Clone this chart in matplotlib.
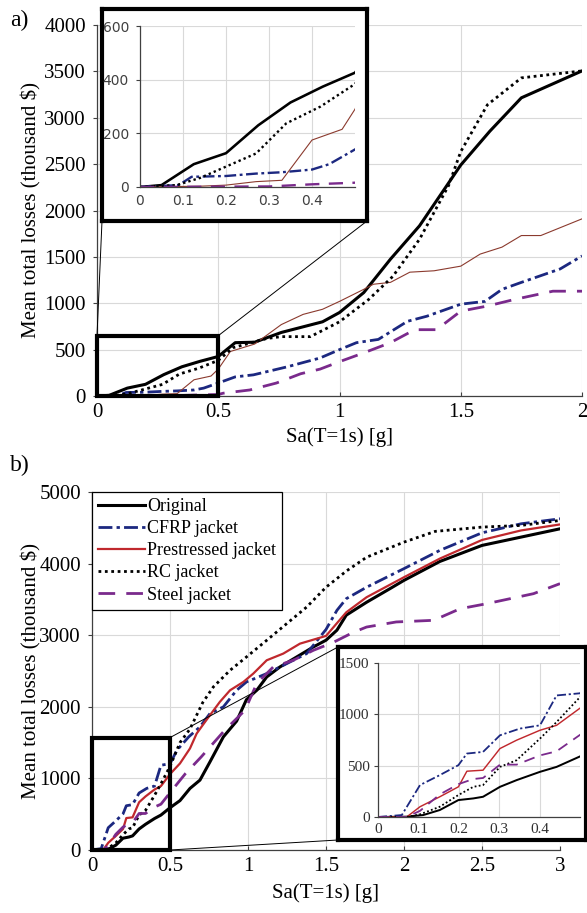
import matplotlib
matplotlib.use('Agg')
import matplotlib.pyplot as plt
from matplotlib.patches import ConnectionPatch

plt.rcParams['font.family'] = 'Liberation Serif'

W, H = 587, 913

# ---- panel a) data (Sa in g, losses in thousand $) ----
a_orig_x = [0, 0.05, 0.125, 0.2, 0.275, 0.35, 0.425, 0.5, 0.57, 0.65, 0.76, 0.93, 1.0, 1.1, 1.21, 1.33, 1.5, 1.62, 1.75, 2.0]
a_orig_y = [0, 7, 85, 126, 230, 315, 374, 426, 575, 580, 685, 800, 900, 1115, 1475, 1835, 2490, 2855, 3215, 3505]

a_cfrp_x = [0, 0.09, 0.12, 0.2, 0.27, 0.33, 0.4, 0.44, 0.5, 0.57, 0.645, 0.785, 0.92, 1.0, 1.07, 1.16, 1.28, 1.36, 1.5, 1.6, 1.67, 1.75, 1.91, 2.0]
a_cfrp_y = [0, 7, 38, 41, 50, 55, 65, 85, 140, 206, 228, 315, 410, 500, 575, 610, 805, 860, 990, 1020, 1150, 1225, 1370, 1510]

a_pres_x = [0, 0.14, 0.2, 0.27, 0.33, 0.4, 0.47, 0.5, 0.55, 0.65, 0.76, 0.85, 0.93, 1.0, 1.1, 1.14, 1.21, 1.29, 1.39, 1.5, 1.58, 1.67, 1.75, 1.83, 2.0]
a_pres_y = [0, 3, 7, 20, 25, 175, 215, 290, 480, 560, 770, 880, 935, 1020, 1150, 1205, 1225, 1335, 1350, 1400, 1530, 1605, 1730, 1730, 1910]

a_rc_x = [0, 0.085, 0.14, 0.2, 0.27, 0.34, 0.42, 0.5, 0.56, 0.7, 0.76, 0.88, 1.0, 1.12, 1.22, 1.33, 1.45, 1.5, 1.61, 1.75, 2.0]
a_rc_y = [0, 7, 34, 76, 125, 237, 300, 384, 520, 620, 640, 640, 800, 1040, 1290, 1690, 2270, 2635, 3140, 3430, 3505]

a_steel_x = [0, 0.3, 0.4, 0.5, 0.52, 0.63, 0.74, 0.84, 0.92, 1.0, 1.1, 1.21, 1.31, 1.4, 1.5, 1.61, 1.72, 1.88, 2.0]
a_steel_y = [0, 2, 10, 16, 30, 65, 140, 240, 290, 370, 465, 575, 715, 715, 915, 970, 1040, 1130, 1130]

# ---- panel b) data ----
b_orig_x = [0, 0.071, 0.112, 0.153, 0.199, 0.236, 0.26, 0.302, 0.343, 0.401, 0.442, 0.5, 0.564, 0.628, 0.692, 0.756, 0.842, 0.927, 0.99, 1.056, 1.12, 1.205, 1.312, 1.419, 1.5, 1.57, 1.63, 1.76, 1.91, 2.0, 2.23, 2.5, 2.75, 3.0]
b_orig_y = [0, 3, 19, 68, 165, 181, 197, 294, 359, 440, 488, 590, 690, 860, 976, 1230, 1580, 1800, 2100, 2231, 2417, 2557, 2696, 2836, 2930, 3070, 3280, 3460, 3650, 3766, 4030, 4254, 4370, 4486]

b_cfrp_x = [0, 0.059, 0.104, 0.153, 0.199, 0.22, 0.26, 0.302, 0.351, 0.401, 0.442, 0.5, 0.545, 0.62, 0.692, 0.756, 0.842, 0.927, 0.99, 1.12, 1.248, 1.376, 1.5, 1.57, 1.63, 1.76, 2.0, 2.23, 2.5, 2.75, 3.0]
b_cfrp_y = [0, 19, 311, 408, 505, 618, 634, 796, 861, 893, 1184, 1205, 1395, 1580, 1720, 1906, 1999, 2231, 2347, 2464, 2603, 2743, 3080, 3347, 3510, 3670, 3930, 4185, 4430, 4556, 4626]

b_pres_x = [0, 0.071, 0.104, 0.153, 0.199, 0.22, 0.26, 0.302, 0.343, 0.401, 0.442, 0.5, 0.564, 0.628, 0.671, 0.735, 0.82, 0.885, 0.97, 1.034, 1.12, 1.226, 1.333, 1.5, 1.63, 1.76, 2.0, 2.23, 2.5, 2.75, 3.0]
b_pres_y = [0, 0, 100, 197, 294, 446, 456, 667, 748, 845, 893, 1060, 1209, 1418, 1627, 1820, 2070, 2231, 2347, 2464, 2650, 2743, 2882, 2990, 3320, 3530, 3810, 4070, 4330, 4463, 4547]

b_rc_x = [0, 0.071, 0.104, 0.153, 0.199, 0.236, 0.26, 0.302, 0.343, 0.401, 0.442, 0.5, 0.564, 0.628, 0.71, 0.778, 0.885, 0.99, 1.12, 1.248, 1.376, 1.5, 1.633, 1.761, 2.0, 2.2, 2.5, 2.75, 3.0]
b_rc_y = [0, 0, 26, 100, 214, 294, 311, 488, 553, 764, 925, 1168, 1500, 1690, 2060, 2278, 2510, 2696, 2929, 3161, 3393, 3670, 3900, 4090, 4300, 4450, 4510, 4533, 4603]

b_steel_x = [0, 0.071, 0.104, 0.153, 0.199, 0.236, 0.26, 0.302, 0.343, 0.401, 0.442, 0.5, 0.6, 0.7, 0.85, 0.98, 1.056, 1.162, 1.29, 1.419, 1.547, 1.675, 1.76, 1.95, 2.19, 2.36, 2.53, 2.83, 3.0]
b_steel_y = [0, 0, 60, 220, 320, 370, 380, 510, 510, 600, 640, 800, 1070, 1300, 1670, 1950, 2324, 2557, 2650, 2789, 2900, 3040, 3114, 3185, 3208, 3370, 3440, 3580, 3720]

labels = ['Original', 'CFRP jacket', 'Prestressed jacket', 'RC jacket', 'Steel jacket']

NAVY = '#1c2880'
PURPLE = '#7a2a8c'
styles = {
    'Original': dict(color='black', lw=2.2, ls='-'),
    'CFRP jacket': dict(color=NAVY, lw=2.0, ls=(0, (5, 1.5, 1.2, 1.5))),
    'Prestressed jacket': dict(color='#c0282d', lw=1.6, ls='-'),
    'RC jacket': dict(color='black', lw=2.0, ls=(0, (1, 1.3))),
    'Steel jacket': dict(color=PURPLE, lw=2.0, ls=(0, (6, 4))),
}

a_data = [(a_orig_x, a_orig_y), (a_cfrp_x, a_cfrp_y), (a_pres_x, a_pres_y), (a_rc_x, a_rc_y), (a_steel_x, a_steel_y)]
b_data = [(b_orig_x, b_orig_y), (b_cfrp_x, b_cfrp_y), (b_pres_x, b_pres_y), (b_rc_x, b_rc_y), (b_steel_x, b_steel_y)]

fig = plt.figure(figsize=(W / 100, H / 100), dpi=100)


def px_axes(x0, y0, x1, y1):
    return fig.add_axes([x0 / W, 1 - y1 / H, (x1 - x0) / W, (y1 - y0) / H])


def style_axes(ax, size, family, color='black'):
    ax.grid(True, color='#d9d9d9', lw=0.8)
    ax.set_axisbelow(True)
    for s in ['top', 'right']:
        ax.spines[s].set_visible(False)
    for s in ['left', 'bottom']:
        ax.spines[s].set_color('#404040')
        ax.spines[s].set_linewidth(0.9)
    ax.tick_params(axis='x', direction='in', length=3, color='#404040', pad=5)
    ax.tick_params(axis='y', direction='out', length=3, color='#404040', pad=5)
    for t in ax.get_xticklabels() + ax.get_yticklabels():
        t.set_fontsize(size)
        t.set_family(family)
        t.set_color(color)


def frame_box(x0, y0, x1, y1):
    fr = px_axes(x0, y0, x1, y1)
    fr.set_xticks([])
    fr.set_yticks([])
    for s in fr.spines.values():
        s.set_linewidth(3)
        s.set_color('black')
    return fr


def connect(ax, xy, fig_px):
    cp = ConnectionPatch(xyA=xy, coordsA=ax.transData,
                         xyB=(fig_px[0] / W, 1 - fig_px[1] / H), coordsB=fig.transFigure,
                         color='black', lw=0.7)
    fig.add_artist(cp)


# ================= panel a =================
ax_a = px_axes(97, 25, 582, 396)
for lab, (x, y) in zip(labels, a_data):
    st = dict(styles[lab])
    if lab == 'Prestressed jacket':
        st.update(color='#8b3a2e', lw=0.8)
    ax_a.plot(x, y, **st)
ax_a.set_xlim(0, 2)
ax_a.set_ylim(0, 4000)
ax_a.set_xticks([0, 0.5, 1, 1.5, 2])
ax_a.set_xticklabels(['0', '0.5', '1', '1.5', '2'])
ax_a.set_yticks(range(0, 4001, 500))
style_axes(ax_a, 15, 'Liberation Serif')
ax_a.add_patch(plt.Rectangle((0, 0), 0.5, 650, fill=False, lw=3, ec='black', zorder=5, clip_on=False))

connect(ax_a, (0, 650), (102, 221))
connect(ax_a, (0.5, 650), (367, 221))

frame_box(102, 9, 367, 221)
ins_a = px_axes(140, 26, 355, 187)
for lab, (x, y) in zip(labels, a_data):
    st = dict(styles[lab])
    if lab == 'Prestressed jacket':
        st.update(color='#8b3a2e', lw=0.8)
    else:
        st.update(lw=st['lw'] * 0.85)
    ins_a.plot(x, y, **st)
ins_a.set_xlim(0, 0.5)
ins_a.set_ylim(0, 600)
ins_a.set_xticks([0, 0.1, 0.2, 0.3, 0.4])
ins_a.set_xticklabels(['0', '0.1', '0.2', '0.3', '0.4'])
ins_a.set_yticks([0, 200, 400, 600])
style_axes(ins_a, 10, 'DejaVu Sans', '#404040')
ins_a.tick_params(axis='x', length=0, pad=5)

fig.text(10 / W, 1 - 20 / H, 'a)', fontsize=17, ha='left', va='center')
fig.text(31 / W, 1 - 210 / H, r'Mean total losses (thousand \$)', rotation=90,
         fontsize=15, ha='center', va='center')
fig.text(340 / W, 1 - 437 / H, 'Sa(T=1s) [g]', fontsize=15, ha='center', va='center')

# ================= panel b =================
ax_b = px_axes(92, 492, 560, 850)
for lab, (x, y) in zip(labels, b_data):
    ax_b.plot(x, y, label=lab, **styles[lab])
ax_b.set_xlim(0, 3)
ax_b.set_ylim(0, 5000)
ax_b.set_xticks([0, 0.5, 1, 1.5, 2, 2.5, 3])
ax_b.set_xticklabels(['0', '0.5', '1', '1.5', '2', '2.5', '3'])
ax_b.set_yticks(range(0, 5001, 1000))
style_axes(ax_b, 15, 'Liberation Serif')
ax_b.add_patch(plt.Rectangle((0, 0), 0.5, 1570, fill=False, lw=3, ec='black', zorder=5, clip_on=False))

leg = ax_b.legend(loc='upper left', bbox_to_anchor=(0, 1), borderaxespad=0,
                  prop={'family': 'Liberation Serif', 'size': 13}, fancybox=False,
                  edgecolor='black', framealpha=1, handlelength=2.6, handletextpad=0.1,
                  labelspacing=0.28, borderpad=0.35)
leg.get_frame().set_linewidth(0.9)

connect(ax_b, (0.5, 1570), (338, 647))
connect(ax_b, (0.5, 0), (338, 840))

frame_box(338, 647, 586, 840)
ins_b = px_axes(378, 663, 580, 817)
for lab, (x, y) in zip(labels, b_data):
    st = dict(styles[lab])
    st.update(lw=st['lw'] * 0.65)
    ins_b.plot(x, y, **st)
ins_b.set_xlim(0, 0.5)
ins_b.set_ylim(0, 1500)
ins_b.set_xticks([0, 0.1, 0.2, 0.3, 0.4])
ins_b.set_xticklabels(['0', '0.1', '0.2', '0.3', '0.4'])
ins_b.set_yticks([0, 500, 1000, 1500])
style_axes(ins_b, 11, 'Liberation Serif', '#303030')
ins_b.tick_params(axis='y', pad=3)
ins_b.tick_params(axis='x', length=0, pad=4)

fig.text(10 / W, 1 - 465 / H, 'b)', fontsize=17, ha='left', va='center')
fig.text(31 / W, 1 - 671 / H, r'Mean total losses (thousand \$)', rotation=90,
         fontsize=15, ha='center', va='center')
fig.text(326 / W, 1 - 893 / H, 'Sa(T=1s) [g]', fontsize=15, ha='center', va='center')

fig.savefig('out.png', dpi=100)
